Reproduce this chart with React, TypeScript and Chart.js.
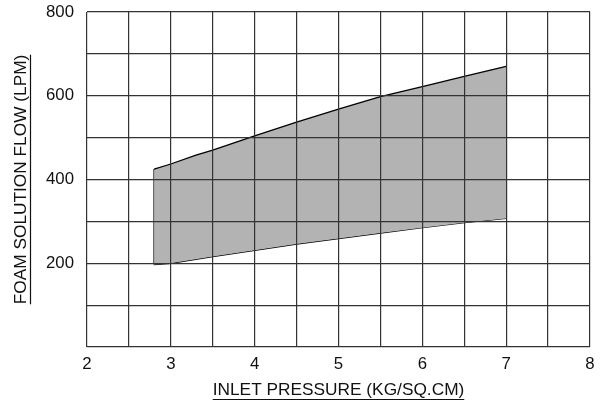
import { useEffect, useRef } from "react";
import { Chart, registerables } from "chart.js";
Chart.register(...registerables);

const upperPressure = [2.8, 3.0, 3.3, 3.5, 4.0, 4.5, 5.0, 5.5, 6.0, 6.5, 7.0];
const upperFlow = [425, 437, 458, 470, 504, 537, 568, 598, 622, 646, 670];
const lowerPressure = [2.8, 3.0, 3.5, 4.0, 4.5, 5.0, 5.5, 6.0, 6.5, 7.0];
const lowerFlow = [197, 200, 216, 231, 246, 259, 272, 285, 297, 307];
const xTickLabels = ["2", "3", "4", "5", "6", "7", "8"];
const yTickLabels = ["200", "400", "600", "800"];
const xTitle = "INLET PRESSURE (KG/SQ.CM)";
const yTitle = "FOAM SOLUTION FLOW (LPM)";

const FONT = "'Liberation Sans', Arial, Helvetica, sans-serif";
const TITLE_SIZE = 17.3;
const TICK_SIZE = 16.8;
const INK = "#111";
const GRID = "#333";

const underlinePlugin = {
  id: "titleUnderline",
  afterDraw(chart: any) {
    const ctx = chart.ctx;
    const xs = chart.scales.x;
    const ys = chart.scales.y;
    const lh = TITLE_SIZE * 1.2;
    ctx.save();
    ctx.font = `${TITLE_SIZE}px ${FONT}`;
    ctx.strokeStyle = INK;
    ctx.lineWidth = 1.2;
    const xw = ctx.measureText(xTitle).width;
    const xcx = (chart.chartArea.left + chart.chartArea.right) / 2;
    const xcy = xs.bottom - xs.options.title.padding.bottom - lh / 2;
    const uy = Math.round(xcy + TITLE_SIZE * 0.5) + 0.5;
    ctx.beginPath();
    ctx.moveTo(xcx - xw / 2, uy);
    ctx.lineTo(xcx + xw / 2, uy);
    ctx.stroke();
    const yw = ctx.measureText(yTitle).width;
    const ycx = ys.left + ys.options.title.padding.top + lh / 2;
    const ycy = (chart.chartArea.top + chart.chartArea.bottom) / 2;
    const ux = Math.round(ycx + TITLE_SIZE * 0.5) + 0.5;
    ctx.beginPath();
    ctx.moveTo(ux, ycy - yw / 2);
    ctx.lineTo(ux, ycy + yw / 2);
    ctx.stroke();
    ctx.restore();
  },
};

export default function App() {
  const ref = useRef<HTMLCanvasElement | null>(null);
  useEffect(() => {
    document.body.style.margin = "0";
    if (!ref.current) return;
    const upper = upperPressure.map((x, i) => ({ x, y: upperFlow[i] }));
    const lower = lowerPressure.map((x, i) => ({ x, y: lowerFlow[i] }));
    const leftEdge = [lower[0], upper[0]];
    const rightEdge = [lower[lower.length - 1], upper[upper.length - 1]];
    const lineBase = {
      showLine: true,
      borderColor: "#000",
      borderWidth: 1.3,
      pointRadius: 0,
      tension: 0,
    };
    const chart = new Chart(ref.current, {
      type: "scatter",
      data: {
        datasets: [
          { ...lineBase, data: upper, fill: "+1", backgroundColor: "#b3b3b3" },
          { ...lineBase, data: lower, fill: false },
          { ...lineBase, data: leftEdge, fill: false },
          { ...lineBase, data: rightEdge, fill: false },
        ] as any,
      },
      options: {
        responsive: false,
        animation: false,
        devicePixelRatio: 1,
        layout: { padding: { top: 12, right: 16, left: 0, bottom: 0 } },
        plugins: { legend: { display: false }, tooltip: { enabled: false } },
        scales: {
          x: {
            type: "linear",
            min: 2,
            max: 8,
            afterFit: (s: any) => {
              s.height = 59;
            },
            ticks: {
              stepSize: 0.5,
              autoSkip: false,
              maxRotation: 0,
              padding: 7,
              color: INK,
              font: { family: FONT, size: TICK_SIZE },
              callback: (v: any) => {
                const s = String(v);
                return xTickLabels.includes(s) ? s : "";
              },
            },
            grid: { color: GRID, lineWidth: 1.2, drawTicks: false, z: 1 },
            border: { display: false },
            title: {
              display: true,
              text: xTitle,
              color: INK,
              font: { family: FONT, size: TITLE_SIZE },
              padding: { top: 0, bottom: 5 },
            },
          },
          y: {
            type: "linear",
            min: 0,
            max: 800,
            afterFit: (s: any) => {
              s.width = 87;
              s.paddingTop = 0;
              s.paddingBottom = 0;
            },
            ticks: {
              stepSize: 100,
              autoSkip: false,
              padding: 13,
              color: INK,
              font: { family: FONT, size: TICK_SIZE },
              callback: (v: any) => {
                const s = String(v);
                return yTickLabels.includes(s) ? s : "";
              },
            },
            grid: { color: GRID, lineWidth: 1.2, drawTicks: false, z: 1 },
            border: { display: false },
            title: {
              display: true,
              text: yTitle,
              color: INK,
              font: { family: FONT, size: TITLE_SIZE },
              padding: { top: 11, bottom: 0 },
            },
          },
        },
      } as any,
      plugins: [underlinePlugin],
    });
    return () => chart.destroy();
  }, []);
  return (
    <div style={{ width: 606, height: 406 }}>
      <canvas ref={ref} width={606} height={406} style={{ width: 606, height: 406, display: "block" }} />
    </div>
  );
}
